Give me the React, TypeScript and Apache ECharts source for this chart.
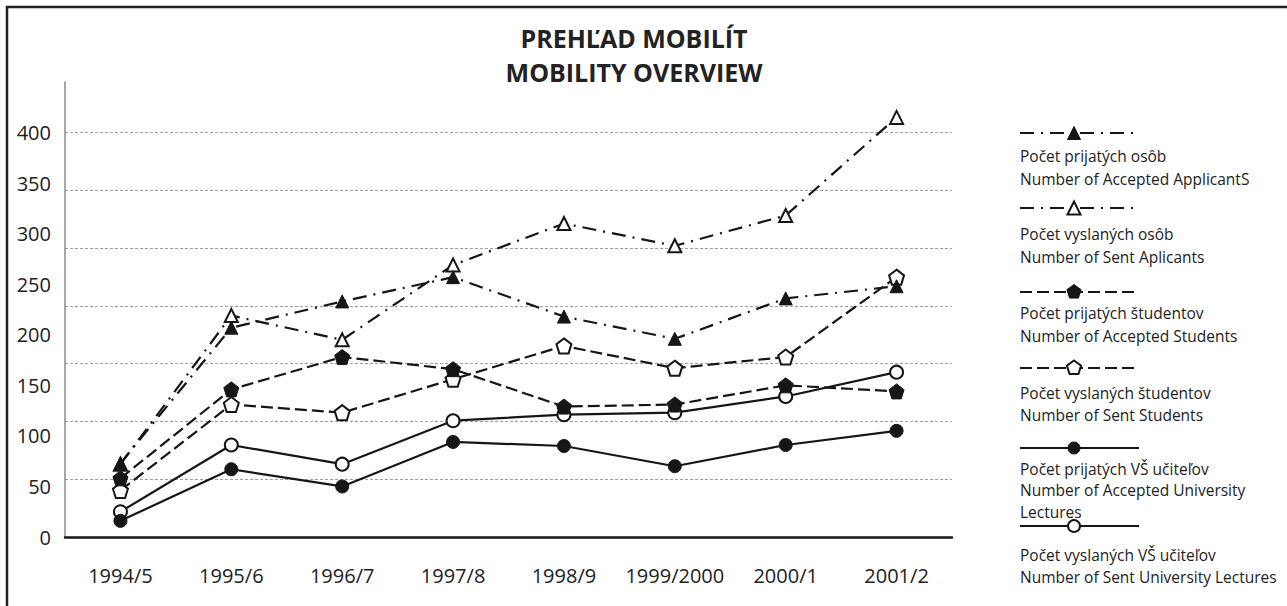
import React, { useEffect, useRef } from 'react';
import * as echarts from 'echarts';

const categories = ['1994/5', '1995/6', '1996/7', '1997/8', '1998/9', '1999/2000', '2000/1', '2001/2'];
const acceptedApplicants = [73, 207, 233, 257, 218, 196, 236, 248];
const sentApplicants = [72, 219, 195, 269, 310, 288, 318, 415];
const acceptedStudents = [58, 146, 178, 166, 129, 131, 150, 144];
const sentStudents = [46, 131, 123, 156, 189, 167, 178, 257];
const acceptedLecturers = [16, 67, 50, 94, 90, 70, 91, 105];
const sentLecturers = [25, 91, 72, 115, 121, 123, 139, 163];
const yMax = 450;
const yStep = 50;
const gridSteps = 7; // gridlines divide 0..400 into 7 parts
const gridTop = 400;
const titleLines = ['PREHĽAD MOBILÍT', 'MOBILITY OVERVIEW'];
const legendLabels = [
  ['Počet prijatých osôb', 'Number of Accepted ApplicantS'],
  ['Počet vyslaných osôb', 'Number of Sent Aplicants'],
  ['Počet prijatých študentov', 'Number of Accepted Students'],
  ['Počet vyslaných študentov', 'Number of Sent Students'],
  ['Počet prijatých VŠ učiteľov', 'Number of Accepted University', 'Lectures'],
  ['Počet vyslaných VŠ učiteľov', 'Number of Sent University Lectures'],
];

const INK = '#161616';
const FONT = '"Open Sans", "Noto Sans", sans-serif';
const DASH_DOT = [14, 7, 2, 7];
const DASHED = [12, 5];
const PENTAGON = 'path://M0,-1L0.951,-0.309L0.588,0.809L-0.588,0.809L-0.951,-0.309Z';

type Kind = 'triangle' | 'pentagon' | 'circle';
const seriesDefs: { data: number[]; kind: Kind; filled: boolean; dash: number[] | 'solid' }[] = [
  { data: sentLecturers, kind: 'circle', filled: false, dash: 'solid' },
  { data: acceptedLecturers, kind: 'circle', filled: true, dash: 'solid' },
  { data: sentStudents, kind: 'pentagon', filled: false, dash: DASHED },
  { data: acceptedStudents, kind: 'pentagon', filled: true, dash: DASHED },
  { data: sentApplicants, kind: 'triangle', filled: false, dash: DASH_DOT },
  { data: acceptedApplicants, kind: 'triangle', filled: true, dash: DASH_DOT },
];
// legend order (top to bottom) -> index into seriesDefs
const legendOrder = [5, 4, 3, 2, 1, 0];
const legendLayout = [
  { lineY: 133, textY: 156, lh: 23 },
  { lineY: 208, textY: 234, lh: 23 },
  { lineY: 292, textY: 313, lh: 23 },
  { lineY: 368, textY: 393, lh: 22 },
  { lineY: 448, textY: 469, lh: 21.3 },
  { lineY: 526, textY: 555, lh: 22 },
];

function symbolFor(kind: Kind) {
  if (kind === 'triangle') return { symbol: 'triangle', size: 13 };
  if (kind === 'pentagon') return { symbol: PENTAGON, size: 15 };
  return { symbol: 'circle', size: 13 };
}

function legendMarker(kind: Kind, filled: boolean, cx: number, cy: number): any {
  const style = filled
    ? { fill: INK, stroke: INK, lineWidth: 1 }
    : { fill: '#fff', stroke: INK, lineWidth: 2 };
  if (kind === 'circle') return { type: 'circle', shape: { cx, cy, r: 6 }, style, z: 20 };
  if (kind === 'triangle')
    return { type: 'polygon', shape: { points: [[cx, cy - 6.5], [cx + 6.5, cy + 6.5], [cx - 6.5, cy + 6.5]] }, style, z: 20 };
  const r = 7.5;
  const pts = [0, 1, 2, 3, 4].map((k) => {
    const a = -Math.PI / 2 + (k * 2 * Math.PI) / 5;
    return [cx + r * Math.cos(a), cy + r * Math.sin(a)];
  });
  return { type: 'polygon', shape: { points: pts }, style, z: 20 };
}

export default function App() {
  const ref = useRef<HTMLDivElement>(null);
  useEffect(() => {
    document.body.style.margin = '0';
    const chart = echarts.init(ref.current!, undefined, { renderer: 'svg' });

    const graphics: any[] = [
      { type: 'rect', shape: { x: 7, y: 7, width: 1290, height: 620 }, style: { fill: 'none', stroke: '#222', lineWidth: 2.5 }, z: 1 },
      {
        type: 'text', x: 634, y: 21,
        style: {
          text: titleLines.join('\n'), font: `bold 25px ${FONT}`, lineHeight: 34.3,
          fill: '#222', textAlign: 'center', textVerticalAlign: 'top',
        },
      },
    ];
    legendOrder.forEach((si, li) => {
      const def = seriesDefs[si];
      const lay = legendLayout[li];
      graphics.push({
        type: 'line', shape: { x1: 1020, y1: lay.lineY, x2: 1139, y2: lay.lineY },
        style: { stroke: INK, lineWidth: 2.2, lineDash: def.dash === 'solid' ? null : def.dash }, z: 10,
      });
      graphics.push(legendMarker(def.kind, def.filled, 1074, lay.lineY));
      graphics.push({
        type: 'text', x: 1020, y: lay.textY - lay.lh / 2,
        style: {
          text: legendLabels[li].join('\n'), font: `15.5px ${FONT}`, lineHeight: lay.lh,
          fill: '#222', textAlign: 'left', textVerticalAlign: 'top',
        },
      });
    });

    chart.setOption({
      animation: false,
      grid: { left: 65, right: 335, top: 82, bottom: 69, containLabel: false },
      xAxis: {
        type: 'category', data: categories, boundaryGap: true,
        axisLine: { lineStyle: { color: INK, width: 2.5 } },
        axisTick: { alignWithLabel: true, interval: 0, length: 11, lineStyle: { color: INK, width: 2 } },
        axisLabel: { interval: 0, color: '#222', fontSize: 20, fontFamily: FONT, margin: 28 },
        splitLine: { show: false },
      },
      yAxis: [
        {
          type: 'value', min: 0, max: yMax, interval: yStep,
          axisLine: { show: true, lineStyle: { color: '#8a8a8a', width: 1.5 } },
          axisTick: { show: false },
          axisLabel: {
            color: '#222', fontSize: 20, fontFamily: FONT, margin: 14,
            formatter: (v: number) => (v > gridTop ? '' : String(v)),
          },
          splitLine: { show: false },
        },
        {
          type: 'value', min: 0, max: yMax, interval: gridTop / gridSteps, position: 'left',
          axisLine: { show: false }, axisTick: { show: false }, axisLabel: { show: false },
          splitLine: { show: true, showMaxLine: false, lineStyle: { color: '#a0a0a0', width: 1, type: [3, 2] } },
        },
      ],
      graphic: graphics,
      series: seriesDefs.map((d, i) => {
        const s = symbolFor(d.kind);
        return {
          type: 'line', data: d.data, yAxisIndex: 0, z: 2 + i,
          symbol: s.symbol, symbolSize: s.size, showAllSymbol: true,
          lineStyle: { color: INK, width: 2.2, type: d.dash },
          itemStyle: d.filled
            ? { color: INK, borderColor: INK, borderWidth: 1 }
            : { color: '#fff', borderColor: INK, borderWidth: 2 },
          emphasis: { disabled: true },
        };
      }),
    });
    return () => chart.dispose();
  }, []);
  return <div ref={ref} style={{ width: 1287, height: 606 }} />;
}
